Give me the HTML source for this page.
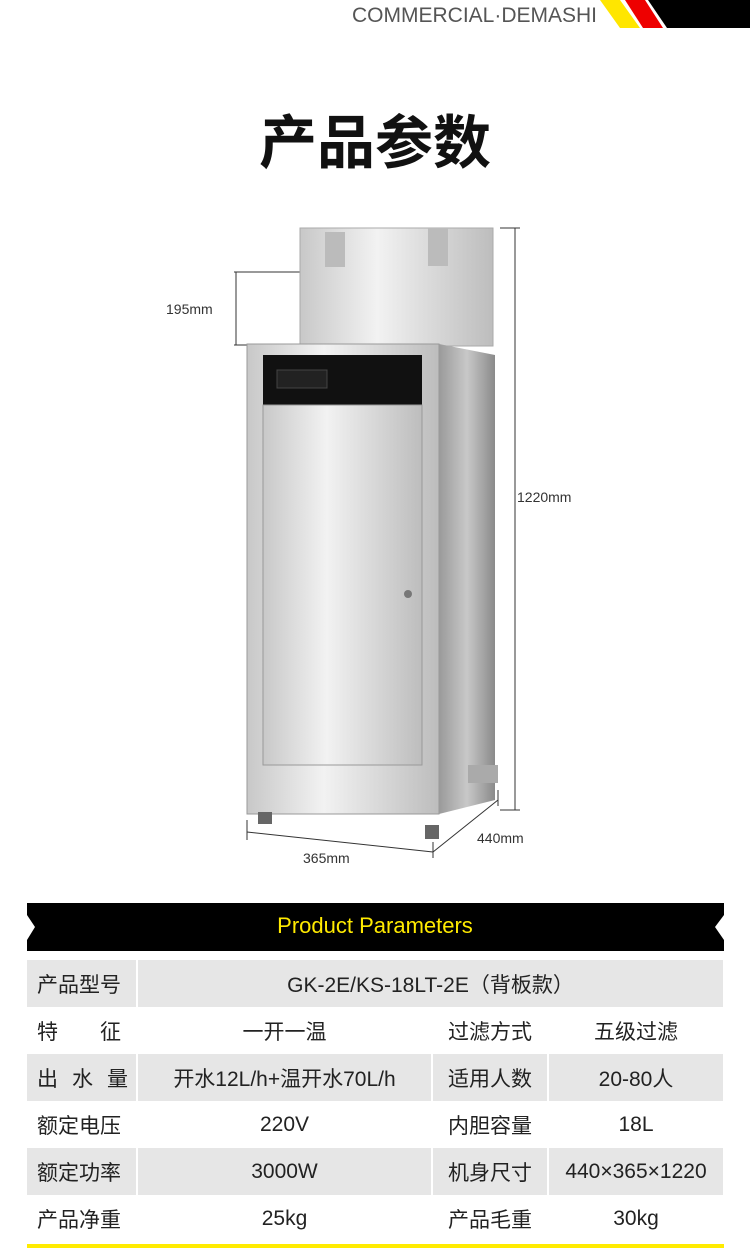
<!DOCTYPE html>
<html><head><meta charset="utf-8"><style>
body{margin:0;width:750px;height:1248px;background:#fff;position:relative;overflow:hidden;font-family:"Liberation Sans","Noto Sans CJK SC",sans-serif}
.a{position:absolute}
table{position:absolute;left:27px;top:960px;width:697px;border-collapse:collapse;table-layout:fixed}
td{height:47px;padding:0;text-align:center;font-size:21px;color:#222;border-right:2px solid #fff;white-space:nowrap}
tr:nth-child(odd) td{background:#e6e6e6}
td:first-child{text-align:left;padding-left:10px}
</style></head><body>
<div class="a" style="left:352px;top:4px;font-size:21px;color:#555;letter-spacing:0px">COMMERCIAL·DEMASHI</div>
<svg class="a" style="left:0;top:0" width="750" height="1248">
<polygon points="600,0 620,0 640,28 620,28" fill="#ffe600"/>
<polygon points="625,0 645,0 663,28 643,28" fill="#e00"/>
<polygon points="648,0 750,0 750,28 667,28" fill="#000"/>
<g stroke="#333" stroke-width="1" fill="none">
<line x1="234" y1="272" x2="318" y2="272"/><line x1="234" y1="345" x2="248" y2="345"/>
<line x1="236" y1="272" x2="236" y2="345"/>
<line x1="500" y1="228" x2="520" y2="228"/><line x1="500" y1="810" x2="520" y2="810"/>
<line x1="515" y1="228" x2="515" y2="810"/>
<line x1="247" y1="820" x2="247" y2="840"/><line x1="247" y1="832" x2="433" y2="852"/><line x1="433" y1="842" x2="433" y2="858"/>
<line x1="433" y1="852" x2="498" y2="800"/><line x1="498" y1="790" x2="498" y2="806"/>
</g>
<defs>
<linearGradient id="g1" x1="0" x2="1"><stop offset="0" stop-color="#c8c8c8"/><stop offset=".4" stop-color="#f2f2f2"/><stop offset="1" stop-color="#bdbdbd"/></linearGradient>
<linearGradient id="g2" x1="0" x2="1"><stop offset="0" stop-color="#9a9a9a"/><stop offset=".5" stop-color="#c8c8c8"/><stop offset="1" stop-color="#8a8a8a"/></linearGradient>
</defs>
<rect x="300" y="228" width="193" height="118" fill="url(#g1)" stroke="#aaa"/>
<rect x="247" y="344" width="192" height="470" fill="url(#g1)" stroke="#999"/>
<polygon points="439,344 495,355 495,800 439,814" fill="url(#g2)"/>
<rect x="263" y="355" width="159" height="50" fill="#111"/>
<rect x="277" y="370" width="50" height="18" fill="#222" stroke="#444"/>
<rect x="263" y="405" width="159" height="360" fill="url(#g1)" stroke="#999"/>
<circle cx="408" cy="594" r="4" fill="#777"/>
<rect x="468" y="765" width="30" height="18" fill="#aaa"/>
<rect x="258" y="812" width="14" height="12" fill="#666"/><rect x="425" y="825" width="14" height="14" fill="#666"/>
<rect x="325" y="232" width="20" height="35" fill="#bbb"/><rect x="428" y="228" width="20" height="38" fill="#bbb"/>
<polygon points="27,903 724,903 724,915 715,927 724,940 724,951 27,951 27,940 35,927 27,915" fill="#000"/>
<rect x="27" y="1244" width="697" height="4" fill="#ffeb00"/>
</svg>
<div class="a" style="left:0;width:750px;top:96px;text-align:center;font-size:58px;font-weight:bold;color:#111">产品参数</div>
<div class="a" style="left:166px;top:301px;font-size:14px;color:#333">195mm</div>
<div class="a" style="left:517px;top:489px;font-size:14px;color:#333">1220mm</div>
<div class="a" style="left:303px;top:850px;font-size:14px;color:#333">365mm</div>
<div class="a" style="left:477px;top:830px;font-size:14px;color:#333">440mm</div>
<div class="a" style="left:0;width:750px;top:913px;text-align:center;font-size:22px;color:#ffea00">Product Parameters</div>
<table>
<colgroup><col style="width:110px"><col style="width:295px"><col style="width:116px"><col style="width:176px"></colgroup>
<tr><td>产品型号</td><td colspan="3">GK-2E/KS-18LT-2E（背板款）</td></tr>
<tr><td><span style="letter-spacing:42px">特</span>征</td><td>一开一温</td><td>过滤方式</td><td>五级过滤</td></tr>
<tr><td><span style="letter-spacing:14px">出水</span>量</td><td>开水12L/h+温开水70L/h</td><td>适用人数</td><td>20-80人</td></tr>
<tr><td>额定电压</td><td>220V</td><td>内胆容量</td><td>18L</td></tr>
<tr><td>额定功率</td><td>3000W</td><td>机身尺寸</td><td>440×365×1220</td></tr>
<tr><td>产品净重</td><td>25kg</td><td>产品毛重</td><td>30kg</td></tr>
</table>
</body></html>
